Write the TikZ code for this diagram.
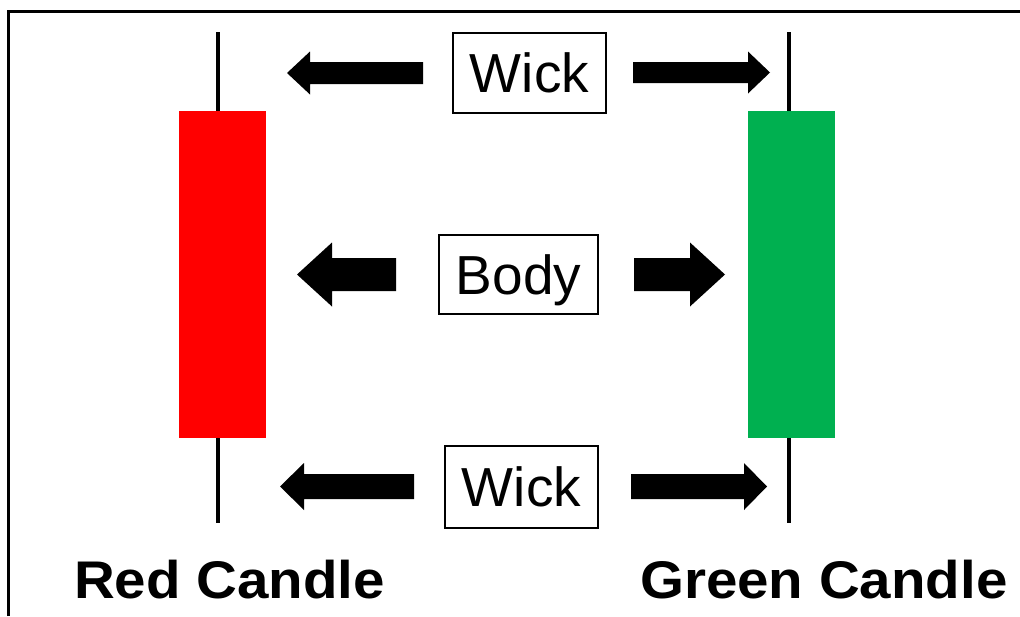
\documentclass[tikz,border=0pt]{standalone}
\usepackage{fontspec}
\setmainfont{Liberation Sans}
\usetikzlibrary{calc}
\definecolor{candlered}{HTML}{FF0000}
\definecolor{candlegreen}{HTML}{00B050}

% block arrow: #1 tail, #2 tip, #3 shaft half-height, #4 head half-height, #5 head length
\newcommand\blockarrow[5]{%
  \fill[arrowfill]
    ($(#1)+(0,-#3)$) --
    ($(#2)!#5!(#1)+(0,-#3)$) --
    ($(#2)!#5!(#1)+(0,-#4)$) --
    (#2) --
    ($(#2)!#5!(#1)+(0,#4)$) --
    ($(#2)!#5!(#1)+(0,#3)$) --
    ($(#1)+(0,#3)$) -- cycle;
}
% slightly widened bold caption text
\newcommand\widecaption[1]{\scalebox{1.066}[1]{#1}}

\begin{document}
\begin{tikzpicture}[x=1pt,y=-1pt,
  frameline/.style={line width=3pt},
  wickline/.style={line width=3.2pt},
  arrowfill/.style={fill=black},
  labelbox/.style={draw, line width=1.4pt, inner sep=0pt,
    font=\fontsize{55}{60}\selectfont, text height=39.5pt, text depth=0pt},
  caption/.style={inner sep=0pt, anchor=base west,
    font=\fontsize{53}{60}\selectfont\bfseries},
  candlebody/.style={inner sep=0pt, minimum width=87pt, minimum height=327pt}]

\useasboundingbox (0,0) rectangle (1020,616);

% open frame along the top and left
\coordinate (fbl) at (8,616);
\coordinate (ftl) at (8,11);
\coordinate (ftr) at (1020,11);
\draw[frameline] (fbl) -- (ftl) -- (ftr);

% red candle
\coordinate (rtop) at (218,32);
\coordinate (rbot) at (218,523);
\draw[wickline] (rtop) -- (rbot);
\node[candlebody, fill=candlered] (redbody) at (222,274.5) {};

% green candle
\coordinate (gtop) at (789,32);
\coordinate (gbot) at (789,523);
\draw[wickline] (gtop) -- (gbot);
\node[candlebody, fill=candlegreen] (greenbody) at (791.5,274.5) {};

% labels
\node[labelbox, minimum width=153pt, minimum height=80pt] (wicktop) at (529.5,73) {Wick};
\node[labelbox, minimum width=159pt, minimum height=79pt] (body) at (518.5,274.5) {Body};
\node[labelbox, minimum width=153pt, minimum height=82pt] (wickbot) at (521.5,487) {Wick};

% arrows, upper row
\coordinate (a1t) at (423,73);  \coordinate (a1h) at (287,73);
\coordinate (a2t) at (633,72.5); \coordinate (a2h) at (770,72.5);
\blockarrow{a1t}{a1h}{11}{21.5}{23pt}
\blockarrow{a2t}{a2h}{10.5}{21}{22pt}

% arrows, middle row
\coordinate (b1t) at (396,274.5); \coordinate (b1h) at (297,274.5);
\coordinate (b2t) at (634,274.5); \coordinate (b2h) at (725,274.5);
\blockarrow{b1t}{b1h}{16.5}{32}{35pt}
\blockarrow{b2t}{b2h}{16.5}{32}{35pt}

% arrows, lower row
\coordinate (c1t) at (414,486.5); \coordinate (c1h) at (280,486.5);
\coordinate (c2t) at (631,486.5); \coordinate (c2h) at (767,486.5);
\blockarrow{c1t}{c1h}{12.5}{23.5}{24pt}
\blockarrow{c2t}{c2h}{12.5}{23.5}{23pt}

% captions
\node[caption] (redcap) at (74,598) {\widecaption{Red Candle}};
\node[caption] (greencap) at (640,598) {\widecaption{Green Candle}};
\end{tikzpicture}
\end{document}
